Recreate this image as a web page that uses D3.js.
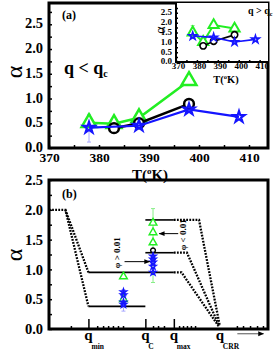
<!DOCTYPE html>
<html>
<head>
<meta charset="utf-8">
<script src="https://cdn.jsdelivr.net/npm/d3@7"></script>
<style>
body { margin: 0; background: #fff; }
text { font-family: "Liberation Serif", "DejaVu Serif", serif; font-weight: bold; }
</style>
</head>
<body>
<svg id="chart" width="274" height="352"></svg>
<script>
// Panneau (a) : alpha en fonction de T
var tGreen = [378, 383, 388, 398]
var tBlack = [383, 388, 398]
var tBlue = [378, 388, 398, 408]
var aGreenLow = [0.51, 0.49, 0.61, 1.36]
var aBlackLow = [0.4, 0.5, 0.89]
var aBlueLow = [0.41, 0.45, 0.78, 0.63]
var errBlueLow = [0.12, 0.68]
var aGreenHigh = [1.5, 1.02, 1.88, 1.7]
var aBlackHigh = [0.82, 1.06, 1.38]
var aBlueHigh = [1.32, 1.25, 1.02, 1.15]
var errGreenHigh = [1.2, 1.85]
var tTicks = [370, 380, 390, 400, 410]
var tMinor = [375, 385, 395, 405]
var alphaTicks = [0, 0.5, 1, 1.5, 2, 2.5]
var alphaMinor = [0.25, 0.75, 1.25, 1.75, 2.25, 2.75]

// Panneau (b) : schéma
var qMajor = [18, 44, 57, 78]
var qNames = ['min', 'C', 'max', 'CRR']
var qMinor = [10, 22, 24.7, 27, 29.2, 31.5, 33.8, 47.5, 49.8, 52.5, 59.4, 61.2, 63, 64.8, 66.7, 85.8, 88.6, 91.8, 95, 97.7]
var dotLow = [[0, 2], [7.5, 2], [18, 0.38]]
var solidLow = [[18, 0.38], [44, 0.38]]
var dotMid = [[7.5, 2], [18, 0.95]]
var solidMid = [[18, 0.95], [57, 0.95]]
var dotMidRight = [[57, 0.95], [60.5, 0.95], [77.4, 0.05]]
var solidUp = [[44, 1.28], [57, 1.28]]
var dotUp = [[57, 1.28], [63, 1.28], [77.7, 0.05]]
var solidTop = [[44, 1.83], [57, 1.83]]
var dotTop = [[57, 1.83], [68.5, 1.83], [78, 0.05]]
var qLeftCol = 34
var leftGreen = [0.88, 0.5]
var leftBlue = [0.62, 0.57, 0.45, 0.41]
var leftErr = [0.3, 0.66]
var qRightCol = 47.5
var rightGreen = [1.78, 1.62, 1.45]
var rightBlack = [1.32]
var rightBlue = [1.22, 1.17, 1.12, 1.05, 0.95]
var rightErr = [0.78, 2.02]

var GREEN = '#22ee22'
var BLUE = '#1515ff'

var svg = d3.select('#chart')

svg.append('defs').append('marker')
  .attr('id', 'arrow')
  .attr('viewBox', '0 0 10 10')
  .attr('refX', 9).attr('refY', 5)
  .attr('markerWidth', 6).attr('markerHeight', 6)
  .attr('orient', 'auto')
  .append('path').attr('d', 'M0,1L10,5L0,9Z').attr('fill', '#000')

function zip (xs, ys) {
  return xs.map(function (x, i) { return [x, ys[i]] })
}

function drawTicks (g, scale, values, size, orient) {
  var axis = orient === 'left' ? d3.axisLeft(scale) : d3.axisBottom(scale)
  g.call(axis.tickValues(values).tickSize(-size).tickFormat(''))
  g.select('.domain').remove()
  g.selectAll('line').attr('stroke', '#000').attr('stroke-width', 1.5)
}

function drawLabels (g, scale, values, fontSize, orient, fmt, pad) {
  var axis = orient === 'left' ? d3.axisLeft(scale) : d3.axisBottom(scale)
  g.call(axis.tickValues(values).tickSize(0).tickPadding(pad).tickFormat(fmt))
  g.select('.domain').remove()
  g.selectAll('text').attr('font-size', fontSize).attr('fill', '#000')
    .style('font-family', '"Liberation Serif", serif').style('font-weight', 'bold')
}

function drawSeries (g, x, y, ts, as, kind, color, size, lw) {
  var line = d3.line().x(function (d) { return x(d[0]) }).y(function (d) { return y(d[1]) })
  var pts = zip(ts, as)
  g.append('path').datum(pts).attr('d', line)
    .attr('fill', 'none').attr('stroke', color).attr('stroke-width', lw)
  drawMarkers(g, x, y, pts, kind, color, size, lw)
}

function drawMarkers (g, x, y, pts, kind, color, size, lw) {
  var type = kind === 'tri' ? d3.symbolTriangle : kind === 'star' ? d3.symbolStar : d3.symbolCircle
  g.selectAll(null).data(pts).enter().append('path')
    .attr('transform', function (d) { return 'translate(' + x(d[0]) + ',' + y(d[1]) + ')' })
    .attr('d', d3.symbol().type(type).size(size))
    .attr('fill', kind === 'star' ? 'none' : '#fff')
    .attr('stroke', color).attr('stroke-width', lw)
}

function errorBar (g, x, y, q, range, color, w) {
  g.append('line')
    .attr('x1', x(q)).attr('x2', x(q))
    .attr('y1', y(range[0])).attr('y2', y(range[1]))
    .attr('stroke', color).attr('stroke-width', w)
  range.forEach(function (v) {
    g.append('line').attr('x1', x(q) - 2).attr('x2', x(q) + 2)
      .attr('y1', y(v)).attr('y2', y(v)).attr('stroke', color).attr('stroke-width', w)
  })
}

// ----- Panneau (a)
function panelA () {
  var x = d3.scaleLinear().domain([370, 413.8]).range([49, 268])
  var y = d3.scaleLinear().domain([0, 2.93]).range([148, 3])
  var g = svg.append('g')

  drawTicks(g.append('g').attr('transform', 'translate(0,148)'), x, tTicks.concat(tMinor), 3, 'bottom')
  drawTicks(g.append('g').attr('transform', 'translate(49,0)'), y, alphaTicks.concat(alphaMinor), 3, 'left')
  drawLabels(g.append('g').attr('transform', 'translate(0,150)'), x, tTicks, 13.5, 'bottom', d3.format('d'), 2)
  drawLabels(g.append('g').attr('transform', 'translate(47,-1)'), y, alphaTicks, 14.5, 'left', d3.format('.1f'), 4)

  errorBar(g, x, y, 378, errBlueLow, '#a8a8ff', 1)
  drawSeries(g, x, y, tGreen, aGreenLow, 'tri', GREEN, 95, 2.5)
  drawSeries(g, x, y, tBlack, aBlackLow, 'circle', '#000', 75, 2.5)
  drawSeries(g, x, y, tBlue, aBlueLow, 'star', BLUE, 38, 2.2)

  g.append('rect').attr('x', 49).attr('y', 3).attr('width', 219).attr('height', 145)
    .attr('fill', 'none').attr('stroke', '#000').attr('stroke-width', 3)

  g.append('text').attr('x', 62).attr('y', 19).attr('font-size', 12).text('(a)')
  var q = g.append('text').attr('x', 64).attr('y', 74).attr('font-size', 18)
  q.append('tspan').text('q < q')
  q.append('tspan').attr('font-size', 10).attr('dy', 3).text('c')
  g.append('text').attr('transform', 'translate(22,72) rotate(-90)')
    .attr('text-anchor', 'middle').attr('font-size', 24).style('font-weight', 'normal').text('α')
  var t = g.append('text').attr('x', 150).attr('y', 180).attr('text-anchor', 'middle').attr('font-size', 15)
  t.append('tspan').text('T(')
  t.append('tspan').attr('font-size', 9).attr('dy', -6).text('o')
  t.append('tspan').attr('dy', 6).text('K)')

  insetA()
}

function insetA () {
  var x = d3.scaleLinear().domain([370, 414]).range([176, 268])
  var y = d3.scaleLinear().domain([0, 3.0]).range([62, 3])
  var g = svg.append('g')
  g.append('rect').attr('x', 176).attr('y', 3).attr('width', 92).attr('height', 59).attr('fill', '#fff')

  drawTicks(g.append('g').attr('transform', 'translate(0,62)'), x, tTicks.concat(tMinor), 2, 'bottom')
  drawTicks(g.append('g').attr('transform', 'translate(176,0)'), y, alphaTicks.concat(alphaMinor), 2, 'left')
  drawLabels(g.append('g').attr('transform', 'translate(2,63)'), x, tTicks, 9, 'bottom', d3.format('d'), 0)
  drawLabels(g.append('g').attr('transform', 'translate(175,-1)'), y, alphaTicks, 9, 'left', d3.format('.1f'), 3)

  errorBar(g, x, y, 378, errGreenHigh, '#88ee88', 1)
  drawSeries(g, x, y, tGreen, aGreenHigh, 'tri', GREEN, 45, 2)
  drawSeries(g, x, y, tBlack, aBlackHigh, 'circle', '#000', 32, 1.6)
  drawSeries(g, x, y, tBlue, aBlueHigh, 'star', BLUE, 18, 1.6)

  g.append('path').attr('d', 'M176,3V62H268')
    .attr('fill', 'none').attr('stroke', '#000').attr('stroke-width', 2)

  var q = g.append('text').attr('x', 248).attr('y', 14).attr('font-size', 10)
  q.append('tspan').text('q > q')
  q.append('tspan').attr('font-size', 6).attr('dy', 2).text('c')
  g.append('text').attr('transform', 'translate(165,30) rotate(-90)')
    .attr('text-anchor', 'middle').attr('font-size', 14).style('font-weight', 'normal').text('α')
  var t = g.append('text').attr('x', 226).attr('y', 83).attr('text-anchor', 'middle').attr('font-size', 10.5)
  t.append('tspan').text('T(')
  t.append('tspan').attr('font-size', 6.5).attr('dy', -4).text('o')
  t.append('tspan').attr('dy', 4).text('K)')
}

// ----- Panneau (b)
function panelB () {
  var x = d3.scaleLinear().domain([0, 100]).range([49, 268])
  var y = d3.scaleLinear().domain([0, 2.5]).range([329, 180])
  var g = svg.append('g')
  var line = d3.line().x(function (d) { return x(d[0]) }).y(function (d) { return y(d[1]) })

  drawTicks(g.append('g').attr('transform', 'translate(0,329)'), x, qMinor, 3, 'bottom')
  drawTicks(g.append('g').attr('transform', 'translate(0,329)'), x, qMajor.slice(0, 3), 10, 'bottom')
  drawTicks(g.append('g').attr('transform', 'translate(49,0)'), y, alphaTicks.concat([0.25, 0.75, 1.25, 1.75, 2.25]), 3, 'left')
  drawLabels(g.append('g').attr('transform', 'translate(47,0)'), y, alphaTicks, 14.5, 'left', d3.format('.1f'), 4)

  ;[dotLow, dotMid, dotMidRight, dotUp, dotTop].forEach(function (pts) {
    g.append('path').datum(pts).attr('d', line).attr('fill', 'none')
      .attr('stroke', '#000').attr('stroke-width', 2.3).attr('stroke-dasharray', '1.8,1.3')
  })
  ;[solidLow, solidMid, solidUp, solidTop].forEach(function (pts) {
    g.append('path').datum(pts).attr('d', line).attr('fill', 'none')
      .attr('stroke', '#000').attr('stroke-width', 1.6)
  })

  errorBar(g, x, y, qLeftCol, leftErr, '#a8a8ff', 1)
  errorBar(g, x, y, qRightCol, rightErr, '#88ee88', 1)
  drawMarkers(g, x, y, leftGreen.map(function (a) { return [qLeftCol, a] }), 'tri', GREEN, 26, 1.4)
  drawMarkers(g, x, y, leftBlue.map(function (a) { return [qLeftCol, a] }), 'star', BLUE, 12, 1.4)
  drawMarkers(g, x, y, rightGreen.map(function (a) { return [qRightCol, a] }), 'tri', GREEN, 26, 1.4)
  drawMarkers(g, x, y, rightBlack.map(function (a) { return [qRightCol, a] }), 'circle', '#000', 18, 1.4)
  drawMarkers(g, x, y, rightBlue.map(function (a) { return [qRightCol, a] }), 'star', BLUE, 12, 1.4)

  // flèches phi
  g.append('line').attr('x1', x(34.5)).attr('x2', x(46)).attr('y1', y(1.13)).attr('y2', y(1.13))
    .attr('stroke', '#000').attr('stroke-width', 1).attr('marker-end', 'url(#arrow)')
  g.append('line').attr('x1', x(59)).attr('x2', x(50.3)).attr('y1', y(1.6)).attr('y2', y(1.6))
    .attr('stroke', '#000').attr('stroke-width', 1).attr('marker-end', 'url(#arrow)')
  g.append('text').attr('transform', 'translate(' + (x(31) + 3) + ',' + y(1.28) + ') rotate(-90)')
    .attr('text-anchor', 'middle').attr('font-size', 9).text('φ > 0.01')
  g.append('text').attr('transform', 'translate(' + (x(61) + 3) + ',' + y(1.58) + ') rotate(-90)')
    .attr('text-anchor', 'middle').attr('font-size', 9).text('φ < 0.01')

  // flèche sous l'axe
  g.append('line').attr('x1', x(86)).attr('x2', x(98)).attr('y1', y(-0.08)).attr('y2', y(-0.08))
    .attr('stroke', '#555').attr('stroke-width', 1).attr('marker-end', 'url(#arrow)')

  // étiquettes q
  qMajor.forEach(function (q, i) {
    g.append('text').attr('x', x(q)).attr('y', 340).attr('text-anchor', 'middle')
      .attr('font-size', 15).text('q')
    g.append('text').attr('x', x(q) + 3).attr('y', 349).attr('font-size', 7.5).text(qNames[i])
  })

  g.append('rect').attr('x', 49).attr('y', 180).attr('width', 219).attr('height', 149)
    .attr('fill', 'none').attr('stroke', '#000').attr('stroke-width', 3)

  g.append('text').attr('x', 62).attr('y', 198).attr('font-size', 12).text('(b)')
  g.append('text').attr('transform', 'translate(22,255) rotate(-90)')
    .attr('text-anchor', 'middle').attr('font-size', 24).style('font-weight', 'normal').text('α')
}

panelA()
panelB()
</script>
</body>
</html>
